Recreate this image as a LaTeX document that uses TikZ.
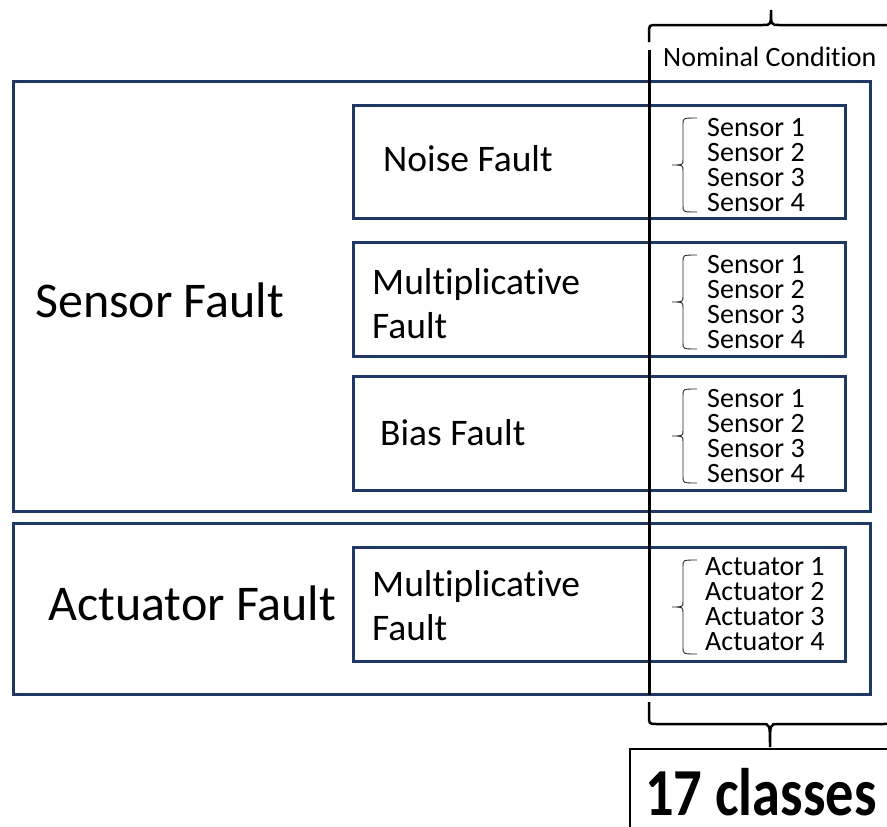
\documentclass[tikz,border=0pt]{standalone}
\usepackage{fontspec}
\usepackage{graphicx}
\setmainfont{Carlito}[Ligatures=NoCommon]
\definecolor{navy}{HTML}{1F3864}
\begin{document}
\begin{tikzpicture}[x=1pt,y=-1pt,
  box/.style={draw=navy,line width=3pt,rectangle,inner sep=0pt,outer sep=0pt,anchor=north west},
  biglabel/.style={inner sep=0pt,anchor=base west,font=\fontsize{50}{60}\selectfont},
  midlabel/.style={inner sep=0pt,align=left,font=\fontsize{37.5}{44}\selectfont},
  listlabel/.style={inner sep=0pt,align=left,anchor=north west,font=\fontsize{28}{25}\selectfont},
  thinbrace/.style={draw=black!85,line width=0.9pt},
  bigbrace/.style={draw=black,line width=2.5pt},
  smallbrace/.pic={\draw[thinbrace] (25,-47) .. controls (11,-47) .. (11,-41) -- (11,-6) .. controls (11,0) .. (0,0) .. controls (11,0) .. (11,6) -- (11,41) .. controls (11,47) .. (25,47);}
]
\useasboundingbox (0,0) rectangle (887,827);
\clip (0,0) rectangle (887,827);

% outer boxes
\node[box,minimum width=857pt,minimum height=430pt] (sensorbox) at (13,81) {};
\node[box,minimum width=857pt,minimum height=171pt] (actbox) at (13,523) {};

% inner boxes
\node[box,minimum width=492pt,minimum height=113pt] (noisebox) at (353,105) {};
\node[box,minimum width=492pt,minimum height=114pt] (multbox) at (353,242) {};
\node[box,minimum width=492pt,minimum height=114pt] (biasbox) at (353,376) {};
\node[box,minimum width=492pt,minimum height=114pt] (actmultbox) at (353,547) {};

% big labels
\node[biglabel] (sensorlabel) at (35,317) {Sensor Fault};
\node[biglabel] (actlabel) at (48,620) {Actuator Fault};

% mid labels
\node[midlabel,anchor=base west] (noiselabel) at (383,171) {Noise Fault};
\node[midlabel,anchor=north west] (multlabel) at (372,268) {Multiplicative\\Fault};
\node[midlabel,anchor=base west] (biaslabel) at (380,445) {Bias Fault};
\node[midlabel,anchor=north west] (actmultlabel) at (372,570) {Multiplicative\\Fault};

% lists
\node[listlabel] (noiselist) at (707,118) {Sensor 1\\Sensor 2\\Sensor 3\\Sensor 4};
\node[listlabel] (multlist) at (707,255) {Sensor 1\\Sensor 2\\Sensor 3\\Sensor 4};
\node[listlabel] (biaslist) at (707,389) {Sensor 1\\Sensor 2\\Sensor 3\\Sensor 4};
\node[listlabel] (actlist) at (705,557) {Actuator 1\\Actuator 2\\Actuator 3\\Actuator 4};

% small braces
\pic at (672,165) {smallbrace};
\pic at (672,302) {smallbrace};
\pic at (672,436) {smallbrace};
\pic at (672,607) {smallbrace};

% nominal condition
\node[inner sep=0pt,anchor=base west,font=\fontsize{28}{34}\selectfont] (nominal) at (663,66) {Nominal Condition};

% vertical line
\coordinate (vtop) at (649,50);
\coordinate (vbot) at (649,695);
\draw[black,line width=3pt] (vtop) -- (vbot);

% top brace
\draw[bigbrace] (649,42) -- (649,33) .. controls (649,25) .. (657,25) -- (763,25) .. controls (771,25) .. (771,10) .. controls (771,25) .. (779,25) -- (885,25) .. controls (893,25) .. (893,33) -- (893,42);

% bottom brace
\draw[bigbrace] (649,702) -- (649,716) .. controls (649,724) .. (657,724) -- (762,724) .. controls (770,724) .. (770,747) .. controls (770,724) .. (778,724) -- (883,724) .. controls (891,724) .. (891,716) -- (891,702);

% 17 classes
\node[draw=black,line width=2pt,rectangle,inner sep=0pt,outer sep=0pt,anchor=north west,minimum width=300pt,minimum height=120pt] (classbox) at (630,749) {};
\node[inner sep=0pt,anchor=base west,font=\fontsize{56.5}{60}\selectfont\bfseries] (classes) at (645,815) {\scalebox{1}[1.19]{17 classes}};
\end{tikzpicture}
\end{document}
